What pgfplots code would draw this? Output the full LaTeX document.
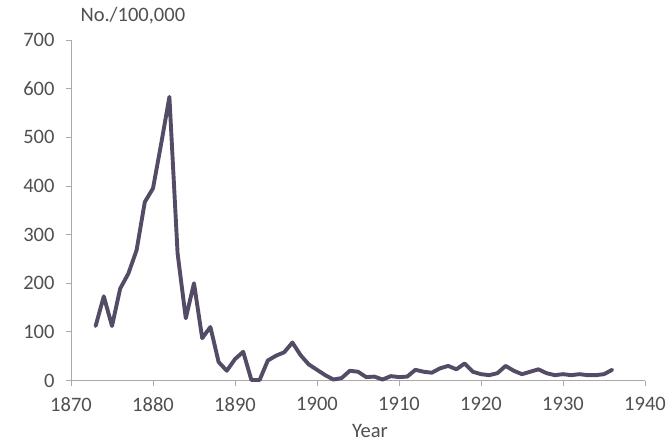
\documentclass[border=0pt]{standalone}
\usepackage{pgfplots}
\pgfplotsset{compat=1.18}
\usepackage{fontspec}
\setmainfont{Carlito}
\definecolor{lineC}{HTML}{544C66}
\definecolor{txtC}{HTML}{505050}
\definecolor{axC}{HTML}{AAAAAA}
\begin{document}
\begin{tikzpicture}
\useasboundingbox (0,0) rectangle (672pt,442pt);
\begin{axis}[
  at={(71pt,61.5pt)}, anchor=south west,
  scale only axis, width=574pt, height=340.5pt,
  xmin=1870, xmax=1940, ymin=0, ymax=700,
  axis x line*=bottom, axis y line*=left,
  axis line style={axC, line width=0.8pt},
  xtick={1870,1880,...,1940}, ytick={0,100,...,700},
  tick align=outside, major tick length=5pt,
  tick style={axC, line width=0.8pt},
  /pgf/number format/1000 sep={},
  /pgf/number format/assume math mode=true,
  tick label style={font=\fontsize{20.5}{24}\selectfont, text=txtC},
  yticklabel style={anchor=east, xshift=-8pt},
  xticklabel style={anchor=north, yshift=-8pt},
  clip=false,
]
\addplot[lineC, line width=3.9pt, line join=round, line cap=round] coordinates {
(1873,112)(1874,173)(1875,112)(1876,189)(1877,220)(1878,268)(1879,367)(1880,395)
(1881,487)(1882,583)(1883,261)(1884,128)(1885,200)(1886,87)(1887,110)(1888,38)
(1889,20)(1890,44)(1891,59)(1892,1)(1893,1)(1894,41)(1895,51)(1896,58)(1897,78)
(1898,52)(1899,33)(1900,22)(1901,11)(1902,2)(1903,5)(1904,20)(1905,18)(1906,7)
(1907,8)(1908,2)(1909,9)(1910,7)(1911,8)(1912,22)(1913,18)(1914,16)(1915,25)
(1916,30)(1917,23)(1918,35)(1919,18)(1920,13)(1921,11)(1922,15)(1923,30)(1924,20)
(1925,13)(1926,18)(1927,23)(1928,15)(1929,11)(1930,13)(1931,11)(1932,13)(1933,11)
(1934,11)(1935,13)(1936,22)
};
\end{axis}
\node[text=txtC, font=\fontsize{20.5}{24}\selectfont, anchor=base west] at (77pt,420pt) {No./100,000};
\node[text=txtC, font=\fontsize{20.5}{24}\selectfont, anchor=base] at (370pt,5pt) {Year};
\end{tikzpicture}
\end{document}
